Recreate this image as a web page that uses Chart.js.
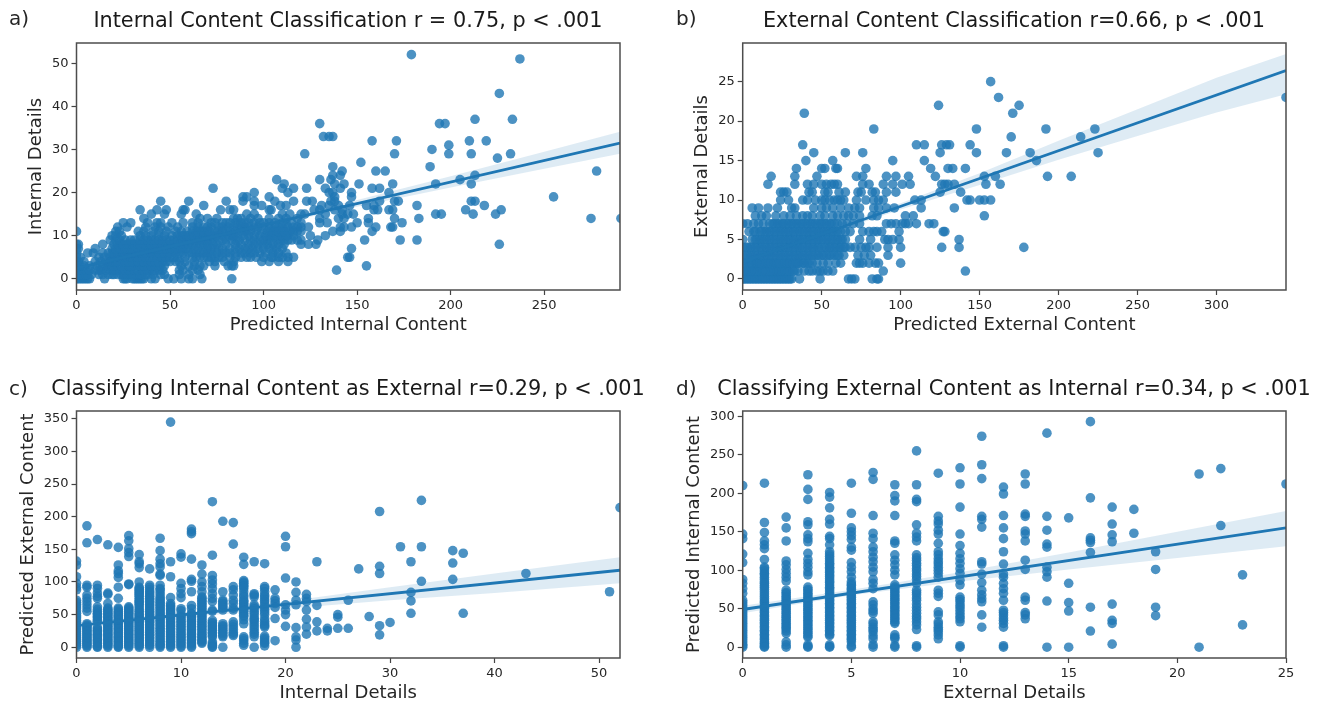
<!DOCTYPE html>
<html lang="en">

<head>
    <meta charset="UTF-8">
    <title>Content Classification Scatter Plots</title>
    <script src="https://cdn.jsdelivr.net/npm/chart.js"></script>
    <style>
        html, body { margin: 0; width: 1324px; height: 701px; overflow: hidden; background: #fff; }
        canvas { position: absolute; filter: blur(0.35px); }
        .letra { position: absolute; font: 20px "DejaVu Sans"; color: #262626; filter: blur(0.35px); }
        .titulo { position: absolute; width: 800px; line-height: 24px; text-align: center; white-space: nowrap;
                  font-family: "DejaVu Sans"; font-size: 20.8px; color: #1a1a1a; filter: blur(0.35px); }
    </style>
</head>

<body>
    <canvas id="chartA" width="662" height="350" style="left:0;top:0"></canvas>
    <canvas id="chartB" width="662" height="350" style="left:662px;top:0"></canvas>
    <canvas id="chartC" width="662" height="350" style="left:0;top:368px"></canvas>
    <canvas id="chartD" width="662" height="350" style="left:662px;top:368px"></canvas>
    <div class="letra" style="left:9px;top:6px">a)</div>
    <div class="letra" style="left:676px;top:6px">b)</div>
    <div class="letra" style="left:9px;top:376px">c)</div>
    <div class="letra" style="left:676px;top:376px">d)</div>
    <div class="titulo" style="left:-52px;top:8px">Internal Content Classification r = 0.75, p &lt; .001</div>
    <div class="titulo" style="left:614px;top:8px">External Content Classification r=0.66, p &lt; .001</div>
    <div class="titulo" style="left:-52px;top:376px">Classifying Internal Content as External r=0.29, p &lt; .001</div>
    <div class="titulo" style="left:614px;top:376px">Classifying External Content as Internal r=0.34, p &lt; .001</div>

    <script>
        // Panel a: index = Internal Details, values = Predicted Internal Content
        const aRows = [
            [0,1,2,3,4,5,6,7,15,25,26,27,30,31,32,33,34,35,36,40,42,49,52,56,60,62,67,83],
            [0,1,2,3,5,6,8,12,14,17,19,20,22,24,25,27,29,30,32,34,35,37,38,41,45,47,55,60,66],
            [0,1,3,5,7,10,12,13,16,18,20,21,23,25,26,28,29,31,33,35,36,38,39,41,42,44,46,55,57,62,65,139],
            [0,2,4,7,11,14,16,17,19,20,22,24,26,28,29,31,33,34,36,38,40,42,44,45,47,56,60,63,66,68,74,81,83,84,155],
            [0,1,4,10,13,16,18,19,21,22,24,26,28,30,32,33,35,36,38,40,42,44,46,48,50,53,55,58,63,71,74,79,84,99,103,108,113],
            [0,2,12,15,18,20,21,23,24,26,27,29,30,32,33,35,37,39,41,43,45,46,48,50,52,54,58,62,64,66,68,70,72,74,76,78,82,85,88,91,93,96,100,104,105,108,110,113,116,145,146],
            [0,6,9,14,17,19,20,22,23,25,26,28,29,31,32,34,35,37,38,40,41,43,44,46,47,49,50,53,55,57,60,62,64,66,68,70,72,75,78,80,82,85,88,90,93,95,98,101,105,108,112],
            [0,1,10,19,21,23,24,26,27,29,30,32,33,35,36,38,39,41,42,44,45,47,48,50,51,53,54,56,57,59,60,63,65,68,70,72,74,76,78,82,85,87,90,92,94,97,100,103,105,107,110,147],
            [0,1,14,20,22,24,25,27,28,30,31,33,34,36,37,39,40,42,43,45,46,48,49,51,52,54,55,57,58,60,62,64,66,68,70,73,75,80,85,88,92,95,97,100,102,105,108,111,120,124,128,226],
            [18,21,23,26,29,31,34,36,38,40,42,44,46,48,50,52,54,56,57,59,61,63,65,67,68,70,71,73,76,78,80,83,85,87,90,93,95,98,100,102,104,107,109,111,113,115,118,120,129,154,173,182],
            [19,21,24,34,37,40,44,47,51,54,56,57,59,60,62,63,65,66,68,69,71,72,74,75,78,81,83,84,86,89,92,95,98,101,103,104,106,107,109,110,112,113,116,125,133],
            [0,21,23,33,36,41,44,48,53,56,59,62,64,65,67,68,70,71,74,76,78,80,82,85,88,90,91,93,96,99,102,104,105,107,108,110,111,113,114,116,118,120,137,141,158],
            [22,27,37,42,45,49,54,62,65,68,70,72,76,78,81,84,86,88,90,92,95,97,100,103,106,108,110,113,116,118,120,124,141,143,147,160,168,169],
            [25,29,38,43,45,51,57,62,65,72,74,78,80,82,85,88,90,92,95,98,100,103,106,110,112,115,120,130,134,150,156,174],
            [36,66,70,75,84,86,88,93,97,103,108,112,118,130,140,143,156,170,183,275,291],
            [40,47,56,64,91,95,110,114,120,122,133,142,145,148,192,195,212,224],
            [34,43,48,57,58,77,82,84,103,104,127,130,138,142,159,161,167,169,208,227],
            [68,95,99,109,112,131,135,140,146,155,159,182,218],
            [45,60,80,89,95,106,116,123,126,136,138,162,170,172,211,213],
            [89,91,103,138,147,255],
            [95,113,135,137,147,167],
            [73,110,116,123,133,141,158,162],
            [111,138,143,151,169,192,211],
            [107,130,136,205],
            [137,141,213],
            [142,160,165,278],
            [137,189],
            [152],
            [225],
            [122,170,199,211,232],
            [190],
            [199],
            [158,171,210,219],
            [132,135,137],
            [], [],
            [130,194,197],
            [213,233],
            [], [], [], [], [],
            [226],
            [], [], [], [], [], [], [],
            [237],
            [179]
        ];

        // Panel b: index = External Details, values = Predicted External Content
        const bRows = [
            [0,1,2,3,4,5,6,7,8,9,10,11,12,13,14,15,16,17,18,19,20,21,22,23,24,25,26,27,28,29,30,31,36,49,67,69,71,82,85,86],
            [0,1,2,3,4,5,6,7,8,9,10,11,12,13,14,15,16,17,18,19,20,21,22,23,24,25,26,27,28,29,30,32,33,35,39,42,44,47,49,51,54,57,89,141],
            [0,1,2,4,5,6,8,9,10,11,12,14,15,16,17,18,20,21,22,23,24,26,27,28,29,30,32,33,34,35,36,38,39,41,42,44,47,51,54,59,62,72,74,76,80,84,86,100],
            [0,2,3,5,6,8,9,11,12,14,15,17,18,20,21,23,24,26,27,29,30,32,33,35,36,38,39,41,42,44,45,47,48,50,51,53,55,56,58,60,61,64,73,77,81,92],
            [0,2,3,5,6,8,9,11,12,14,15,17,18,20,21,23,24,26,27,29,30,32,33,35,36,38,39,41,42,44,45,47,48,50,52,53,55,56,58,59,61,62,64,65,68,71,75,78,80,85,92,100,126,137,178],
            [0,6,8,9,11,12,14,15,17,18,20,21,23,24,26,27,29,30,32,33,35,36,38,39,41,42,44,45,47,48,50,51,53,54,56,57,59,60,62,63,65,74,81,90,92,95,99,137],
            [4,7,8,11,12,14,15,17,18,20,21,23,24,26,27,29,30,32,33,35,36,38,39,41,42,44,45,47,48,50,51,53,54,56,57,59,60,62,65,68,76,80,83,85,88,99,127,128],
            [0,3,7,10,13,17,19,20,22,23,25,26,28,29,31,32,34,35,37,38,40,41,43,44,46,47,49,50,52,53,55,56,58,60,63,66,70,74,91,94,97,101,103,105,110,118,121],
            [8,12,15,21,26,30,34,38,41,44,49,52,57,60,64,67,70,74,82,85,103,108,153],
            [6,10,16,22,31,33,45,50,53,57,62,67,71,74,83,86,91,96,113,134],
            [24,29,38,41,46,50,52,55,58,60,62,64,72,78,83,86,89,109,113,142,144,150,153,157],
            [24,26,28,42,44,52,54,61,65,73,75,82,84,91,97,125,138],
            [16,33,41,45,50,53,56,58,60,76,80,89,95,101,106,126,128,130,134,154,163],
            [18,33,47,72,76,91,97,105,122,153,160,193,208],
            [34,50,52,59,60,78,119,130,133,141],
            [40,57,95,115,186],
            [45,65,76,125,148,167,182,225],
            [38,110,115,126,129,131,144],
            [170,214],
            [83,148,192,223],
            [],
            [39,171],
            [124,175],
            [162,344],
            [],
            [157]
        ];

        // Panel c: index = Internal Details, values = Predicted External Content
        const cCols = [
            [132,126,108,98,92,88,72,69,66,63,60,56,52,48,45,41,38,34,30,27,24,21,18,15,12,9,6,3,0],
            [186,160,95,92,80,75,70,65,60,55,36,34,32,30,28,26,24,22,20,18,16,14,12,10,8,6,4,2,0],
            [165,95,90,83,78,75,62,58,55,52,50,47,45,42,40,30,28,26,24,22,20,18,16,14,12,10,8,6,3,1,0],
            [157,83,81,67,60,58,56,54,52,50,48,46,44,42,40,38,36,34,32,30,28,26,24,22,20,18,16,14,12,10,8,6,4,2,0],
            [153,126,117,113,107,92,75,60,58,55,53,51,49,47,45,43,41,39,37,35,33,31,29,27,25,23,21,19,17,15,13,11,9,7,5,3,1,0],
            [171,163,151,145,139,97,96,62,60,58,56,54,52,50,48,46,44,42,40,38,36,34,32,30,28,26,24,22,20,18,16,14,12,10,8,6,4,2,0],
            [142,131,128,122,100,92,90,88,86,84,82,80,78,75,72,70,68,66,63,60,57,55,52,50,48,46,44,42,40,38,36,34,32,30,28,26,24,22,20,18,16,14,12,10,8,6,4,2,0],
            [120,95,92,88,85,83,80,78,75,73,70,68,65,63,60,58,55,53,50,48,45,43,40,38,35,33,30,28,25,23,20,18,15,13,10,8,5,3,0],
            [167,148,135,128,123,112,110,95,90,88,84,80,76,74,71,69,66,64,61,59,56,54,51,49,46,44,41,39,36,34,31,29,26,24,21,19,16,14,11,9,6,4,2,0],
            [345,131,108,76,67,64,62,59,57,54,52,49,47,44,42,39,37,34,32,29,27,24,22,19,17,14,12,9,7,4,2,0],
            [143,138,98,90,82,76,59,56,50,47,45,42,40,37,35,32,30,27,25,22,20,17,15,12,10,7,5,2,0],
            [181,177,174,135,104,101,85,64,59,52,50,47,45,42,40,37,35,32,30,27,25,22,20,17,15,12,10,7,5,2,0],
            [126,112,100,93,85,77,75,72,70,67,65,62,60,57,55,52,50,47,45,42,40,37,35,32,30,27,25,22,20,17,15,12,10,8,6],
            [223,141,110,103,97,90,82,75,70,57,55,41,38,36,33,31,28,26,23,21,18,16,8,5,3,1,0],
            [193,85,72,70,67,65,62,60,57,36,33,31,28,26,23,21,18,16,0],
            [191,158,93,88,80,72,67,60,57,39,35,31,27,23,20,18],
            [138,127,102,100,98,95,93,90,85,80,77,72,70,67,65,62,60,57,55,52,49,47,42,36,16,13,10,6,3],
            [131,82,80,77,65,62,59,55,52,48,44,42,39,35,31,27,23,20,16,0],
            [128,93,90,85,80,77,73,70,66,62,58,54,50,44,40,36,33,31,17,14,11,8,6,2],
            [88,75,71,67,61,44,10],
            [170,154,106,65,57,50,32],
            [100,84,72,65,30,16,11,0],
            [81,75,70,57,43,31,20],
            [131,64,39,25],
            [29,25],
            [50,46,29],
            [72,29],
            [120],
            [47],
            [208,124,113,33,19],
            [38],
            [154],
            [131,84,71,52],
            [225,154,101],
            [], [],
            [148,129,104],
            [144,52],
            [], [], [], [], [],
            [113],
            [], [], [], [], [], [], [],
            [85],
            [214]
        ];

        // Panel d: index = External Details, values = Predicted Internal Content
        const dCols = [
            [210,147,141,121,110,88,83,76,70,61,58,55,52,49,46,43,40,37,34,31,28,25,22,19,16,13,10,7,4,2,0],
            [213,162,149,138,133,128,114,104,102,99,96,94,91,88,85,83,80,78,75,72,69,66,63,60,58,55,52,50,47,45,42,40,37,35,32,30,27,25,22,20,17,15,12,10,7,5,3,1,0],
            [169,155,138,112,107,101,96,91,86,74,71,69,66,64,61,59,56,54,51,49,46,44,41,39,36,34,31,29,26,24,21,18,7,3,0],
            [224,205,192,163,159,146,141,137,122,114,109,104,98,94,78,75,73,70,68,65,63,60,58,55,53,50,48,45,43,40,38,35,33,30,28,25,23,20,18,15,13,3,1,0],
            [201,195,181,166,160,144,141,133,124,121,118,115,112,109,107,104,102,99,97,94,92,89,86,84,81,78,76,73,70,67,65,62,60,57,55,52,50,47,45,42,40,37,35,32,30,27,25,22,20,17,15,3,1,0],
            [213,174,155,150,145,140,130,126,110,104,98,91,85,82,80,77,75,72,70,67,65,62,60,57,55,52,50,47,45,42,40,37,35,32,30,27,25,22,20,17,15,12,10,7,2,0],
            [227,218,171,148,141,130,124,117,111,104,98,88,83,76,59,55,50,47,44,33,30,26,23,20,15,11,3,0],
            [211,197,190,171,138,135,120,113,107,100,94,81,78,76,73,71,68,66,63,61,58,56,53,51,48,46,43,41,38,36,33,31,16,13,11,2,0],
            [255,211,192,189,159,148,143,138,120,116,113,109,106,102,99,95,92,88,83,74,71,68,64,61,56,52,48,44,40,37,33,29,23,2,0],
            [226,170,164,160,152,147,135,124,120,115,111,108,104,100,96,91,74,70,66,46,42,33,30,26,23,20,16,11],
            [233,212,182,147,132,122,115,109,102,96,87,81,65,62,59,55,52,48,44,40,37,33,2,0],
            [274,237,219,170,166,156,111,108,95,84,74,68,63,59,42,26],
            [208,199,171,155,141,124,108,95,91,83,76,70,61,48,45,42,38,35,31,26,2,0],
            [225,212,173,170,151,147,138,113,101,65,61,45,42,37],
            [278,170,152,134,130,104,98,91,60,0],
            [168,83,58,47,0],
            [293,194,142,139,136,123,52,21],
            [182,160,146,137,56,35,31,4],
            [179,148],
            [124,101,52,41],
            [],
            [225,0],
            [232,158],
            [94,29],
            [],
            [212]
        ];

        // Regression lines and confidence bands
        const aLineX = [0, 290.5], aLineY = [2.5, 31.5];
        const aBandX = [0, 50, 100, 150, 200, 250, 290.5];
        const aUpper = [3.2, 8, 12.95, 18.3, 23.8, 29.5, 34.1];
        const aLower = [1.8, 7, 12.05, 16.7, 21.2, 25.5, 29];

        const bLineX = [0, 344], bLineY = [2.15, 26.4];
        const bBandX = [0, 50, 100, 150, 200, 250, 300, 344];
        const bUpper = [2.5, 6, 9.6, 13.4, 17.5, 21.5, 25.5, 28.5];
        const bLower = [1.8, 5.4, 8.8, 11.9, 15.1, 18.1, 21.1, 23.4];

        const cLineX = [0, 52], cLineY = [33, 118];
        const cBandX = [0, 10, 20, 30, 40, 52];
        const cUpper = [38, 53, 70, 92, 113, 138];
        const cLower = [28, 45, 59, 72, 83, 98];

        const dLineX = [0, 25], dLineY = [49, 155];
        const dBandX = [0, 5, 10, 15, 20, 25];
        const dUpper = [54, 74.5, 97.5, 123, 150, 177];
        const dLower = [44, 67.5, 85.5, 101, 116, 131];

        const aTicksX = [0, 50, 100, 150, 200, 250], aTicksY = [0, 10, 20, 30, 40, 50];
        const bTicksX = [0, 50, 100, 150, 200, 250, 300], bTicksY = [0, 5, 10, 15, 20, 25];
        const cTicksX = [0, 10, 20, 30, 40, 50], cTicksY = [0, 50, 100, 150, 200, 250, 300, 350];
        const dTicksX = [0, 5, 10, 15, 20, 25], dTicksY = [0, 50, 100, 150, 200, 250, 300];

        const AZUL = "#1f77b4";
        const TEXTO = "#262626";
        const FONTE = "'DejaVu Sans'";

        // Turn the rows/columns into x,y points
        function rowsToPoints(rows) {
            return rows.flatMap((vals, i) => vals.map(v => ({ x: v, y: i })));
        }
        function colsToPoints(cols) {
            return cols.flatMap((vals, i) => vals.map(v => ({ x: i, y: v })));
        }
        function zipXY(xs, ys) {
            return xs.map((x, i) => ({ x: x, y: ys[i] }));
        }

        // Frame around the plot area, all four sides
        const moldura = {
            id: "moldura",
            afterDatasetsDraw(chart) {
                const a = chart.chartArea, c = chart.ctx;
                c.save();
                c.strokeStyle = "#4d4d4d";
                c.lineWidth = 1.5;
                c.strokeRect(a.left, a.top, a.right - a.left, a.bottom - a.top);
                c.restore();
            }
        };

        function eixo(min, max, ticks, titulo, cfgFit, tituloPad) {
            return {
                type: "linear",
                min: min,
                max: max,
                title: { display: true, text: titulo, color: TEXTO, font: { family: FONTE, size: 18 }, padding: tituloPad },
                border: { display: false },
                grid: { drawOnChartArea: false, drawTicks: true, tickLength: 5, tickColor: "#444", tickWidth: 1.2 },
                ticks: { color: TEXTO, font: { family: FONTE, size: 13 }, padding: 3, autoSkip: false, maxRotation: 0 },
                afterBuildTicks: s => { s.ticks = ticks.map(v => ({ value: v })); },
                afterFit: cfgFit
            };
        }

        function criarPainel(id, o) {
            new Chart(document.getElementById(id), {
                type: "scatter",
                data: {
                    datasets: [
                        { data: o.pontos, backgroundColor: "rgba(31,119,180,0.8)", borderWidth: 0, pointRadius: 4.8, clip: 0, order: 4 },
                        { type: "line", data: zipXY(o.bandaX, o.superior), borderWidth: 0, pointRadius: 0, fill: false, clip: 0, order: 3 },
                        { type: "line", data: zipXY(o.bandaX, o.inferior), borderWidth: 0, pointRadius: 0, fill: "-1", backgroundColor: "rgba(31,119,180,0.15)", clip: 0, order: 2 },
                        { type: "line", data: zipXY(o.linhaX, o.linhaY), borderColor: AZUL, borderWidth: 2.8, pointRadius: 0, fill: false, clip: 0, order: 1 }
                    ]
                },
                options: {
                    responsive: false,
                    animation: false,
                    layout: { padding: { left: 0, right: o.direita, top: 43, bottom: 0 } },
                    plugins: {
                        legend: { display: false },
                        tooltip: { enabled: false }
                    },
                    scales: {
                        x: eixo(o.xMin, o.xMax, o.ticksX, o.rotuloX, s => { s.height = 60; }, { top: 0, bottom: 13.5 }),
                        y: eixo(o.yMin, o.yMax, o.ticksY, o.rotuloY, s => { s.width = o.esquerda; }, { top: o.rotuloPad, bottom: 0 })
                    }
                },
                plugins: [moldura]
            });
        }

        criarPainel("chartA", {
            pontos: rowsToPoints(aRows), bandaX: aBandX, superior: aUpper, inferior: aLower, linhaX: aLineX, linhaY: aLineY,
            rotuloX: "Predicted Internal Content", rotuloY: "Internal Details",
            xMin: 0, xMax: 290.5, yMin: -2.6, yMax: 54.7, ticksX: aTicksX, ticksY: aTicksY,
            esquerda: 76.5, direita: 42, rotuloPad: 25.5
        });
        criarPainel("chartB", {
            pontos: rowsToPoints(bRows), bandaX: bBandX, superior: bUpper, inferior: bLower, linhaX: bLineX, linhaY: bLineY,
            rotuloX: "Predicted External Content", rotuloY: "External Details",
            xMin: 0, xMax: 344, yMin: -1.4, yMax: 29.9, ticksX: bTicksX, ticksY: bTicksY,
            esquerda: 80.7, direita: 38, rotuloPad: 30
        });
        criarPainel("chartC", {
            pontos: colsToPoints(cCols), bandaX: cBandX, superior: cUpper, inferior: cLower, linhaX: cLineX, linhaY: cLineY,
            rotuloX: "Internal Details", rotuloY: "Predicted External Content",
            xMin: 0, xMax: 52, yMin: -16.5, yMax: 362, ticksX: cTicksX, ticksY: cTicksY,
            esquerda: 76.5, direita: 42, rotuloPad: 17.5
        });
        criarPainel("chartD", {
            pontos: colsToPoints(dCols), bandaX: dBandX, superior: dUpper, inferior: dLower, linhaX: dLineX, linhaY: dLineY,
            rotuloX: "External Details", rotuloY: "Predicted Internal Content",
            xMin: 0, xMax: 25, yMin: -14, yMax: 306.8, ticksX: dTicksX, ticksY: dTicksY,
            esquerda: 80.7, direita: 38, rotuloPad: 21.5
        });
    </script>
</body>

</html>
